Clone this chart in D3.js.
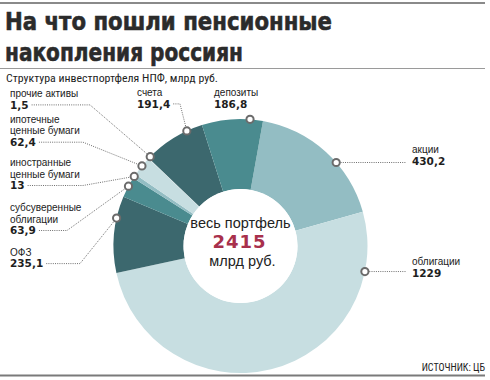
<!DOCTYPE html>
<html><head><meta charset="utf-8">
<script src="https://cdn.jsdelivr.net/npm/d3@7"></script>
<style>
html,body{margin:0;padding:0;background:#fff;}
svg{display:block;}
</style></head>
<body>
<svg id="chart" width="490" height="380"></svg>
<script>
// ---- data ----
const categories = ["акции","облигации","ОФЗ","субсуверенные облигации","иностранные ценные бумаги","ипотечные ценные бумаги","прочие активы","счета","депозиты"];
const values = [430.2, 1229, 235.1, 63.9, 13, 62.4, 1.5, 191.4, 186.8];
const valueLabels = ["430,2","1229","235,1","63,9","13","62,4","1,5","191,4","186,8"];
const labelLines = [["акции"],["облигации"],["ОФЗ"],["субсуверенные","облигации"],["иностранные","ценные бумаги"],["ипотечные","ценные бумаги"],["прочие активы"],["счета"],["депозиты"]];
const totalLabel = "2415";
const title = ["На что пошли пенсионные","накопления россиян"];
const subtitle = "Структура инвестпортфеля НПФ, млрд руб.";
const source = "ИСТОЧНИК: ЦБ";

// ---- styles / layout ----
const colors = ["#93bdc3","#c7dee1","#3c686e","#4a8b8f","#93bdc3","#c7dee1","#eef5f6","#3c686e","#4a8b8f"];
const layout = [
  {ang:48.9,  x:412, y:153.3, side:"right"},
  {ang:101.6, x:412, y:265,   side:"right"},
  {ang:-77.3, x:10,  y:255.7, side:"left", elbow:80},
  {ang:-61.9, x:10,  y:211,   side:"left", elbow:67},
  {ang:-56.8, x:10,  y:166,   side:"left", elbow:83},
  {ang:-50.9, x:10,  y:122.7, side:"left", elbow:83},
  {ang:-45.3, x:10,  y:97,    side:"left", elbow:90},
  {ang:-25,   x:137, y:96,    side:"top",  elbow:180},
  {ang:4.3,   x:214, y:96,    side:"none"}
];
const cx = 240.5, cy = 246, rOut = 127, rIn = 57, dotR = 127;
const lineH = 11.6;
const labelFont = "'Liberation Sans', Arial, sans-serif";

const svg = d3.select("#chart");

// rules
svg.append("line").attr("x1",0).attr("x2",485).attr("y1",3).attr("y2",3).attr("stroke","#8a8a8a").attr("stroke-width",2);
svg.append("line").attr("x1",0).attr("x2",485).attr("y1",68.5).attr("y2",68.5).attr("stroke","#9a9a9a").attr("stroke-width",1);
svg.append("line").attr("x1",0).attr("x2",485).attr("y1",375.5).attr("y2",375.5).attr("stroke","#7a7a7a").attr("stroke-width",2);

// title
const titleW = [327, 238];
title.forEach((t,i)=>{
  svg.append("text").attr("x",5).attr("y",29.5 + i*31)
    .attr("font-family","'DejaVu Sans', sans-serif").attr("font-weight","bold").attr("font-size",24)
    .attr("fill","#2b2b2b").attr("textLength",titleW[i]).attr("lengthAdjust","spacingAndGlyphs")
    .attr("stroke","#2b2b2b").attr("stroke-width",0.6)
    .text(t);
});
svg.append("text").attr("x",6).attr("y",82)
  .attr("font-family","'Liberation Sans Narrow', 'Roboto Condensed', 'Noto Sans', sans-serif").attr("font-size",11)
  .attr("fill","#222").attr("textLength",212).attr("lengthAdjust","spacingAndGlyphs").text(subtitle);

// pie
const pie = d3.pie().sort(null).value(d=>d).startAngle(10.2*Math.PI/180).endAngle(10.2*Math.PI/180 + 2*Math.PI);
const arcs = pie(values);
const arc = d3.arc().innerRadius(rIn).outerRadius(rOut);
const g = svg.append("g").attr("transform",`translate(${cx},${cy})`);
g.selectAll("path").data(arcs).join("path").attr("d",arc).attr("fill",(d,i)=>colors[i]);
g.append("circle").attr("r",rIn).attr("fill","#fff");

// center text
g.append("text").attr("x",0).attr("y",-18).attr("text-anchor","middle")
  .attr("font-family","'Liberation Sans', sans-serif").attr("font-size",14.5).attr("fill","#222").text("весь портфель");
g.append("text").attr("x",-1).attr("y",2).attr("text-anchor","middle")
  .attr("font-family","'DejaVu Sans', sans-serif").attr("font-weight","bold").attr("font-size",18)
  .attr("fill","#a8304c").attr("letter-spacing",1).text(totalLabel);
g.append("text").attr("x",2).attr("y",19.5).attr("text-anchor","middle")
  .attr("font-family","'Liberation Sans', sans-serif").attr("font-size",14.5).attr("fill","#222").text("млрд руб.");

// annotations
const leaderG = svg.append("g");
const dotG = svg.append("g");
categories.forEach((c,i)=>{
  const L = layout[i];
  const a = L.ang*Math.PI/180;
  const dx = cx + dotR*Math.sin(a), dy = cy - dotR*Math.cos(a);
  const lines = labelLines[i];
  lines.forEach((t,j)=>{
    svg.append("text").attr("x",L.x).attr("y",L.y + j*lineH)
      .attr("font-family",labelFont).attr("font-size",10).attr("fill","#222").text(t);
  });
  const vy = L.y + lines.length*lineH;
  const vt = svg.append("text").attr("x",L.x).attr("y",vy)
    .attr("font-family","'DejaVu Sans', sans-serif").attr("font-weight","bold").attr("font-size",10.5)
    .attr("fill","#1e1e1e").text(valueLabels[i]);
  const vw = vt.node().getComputedTextLength();
  const ly = vy - 3.7;
  let pts = null;
  if (L.side === "left" || L.side === "top") {
    pts = [[L.x + vw + 3, ly],[L.elbow, ly],[dx, dy]];
  } else if (L.side === "right") {
    pts = [[dx, dy],[L.x - 6, dy]];
  }
  if (pts) {
    leaderG.append("path").attr("d", d3.line()(pts)).attr("fill","none")
      .attr("stroke","#6f6f6f").attr("stroke-width",1).attr("stroke-dasharray","1,1.2");
  }
  dotG.append("circle").attr("cx",dx).attr("cy",dy).attr("r",3.6)
    .attr("fill","#fff").attr("stroke","#6b6b6b").attr("stroke-width",2);
});

// source
svg.append("text").attr("x",485).attr("y",371).attr("text-anchor","end")
  .attr("font-family","'Liberation Sans Narrow', 'Roboto Condensed', sans-serif").attr("font-size",10)
  .attr("fill","#222").text(source);
</script>
</body></html>
